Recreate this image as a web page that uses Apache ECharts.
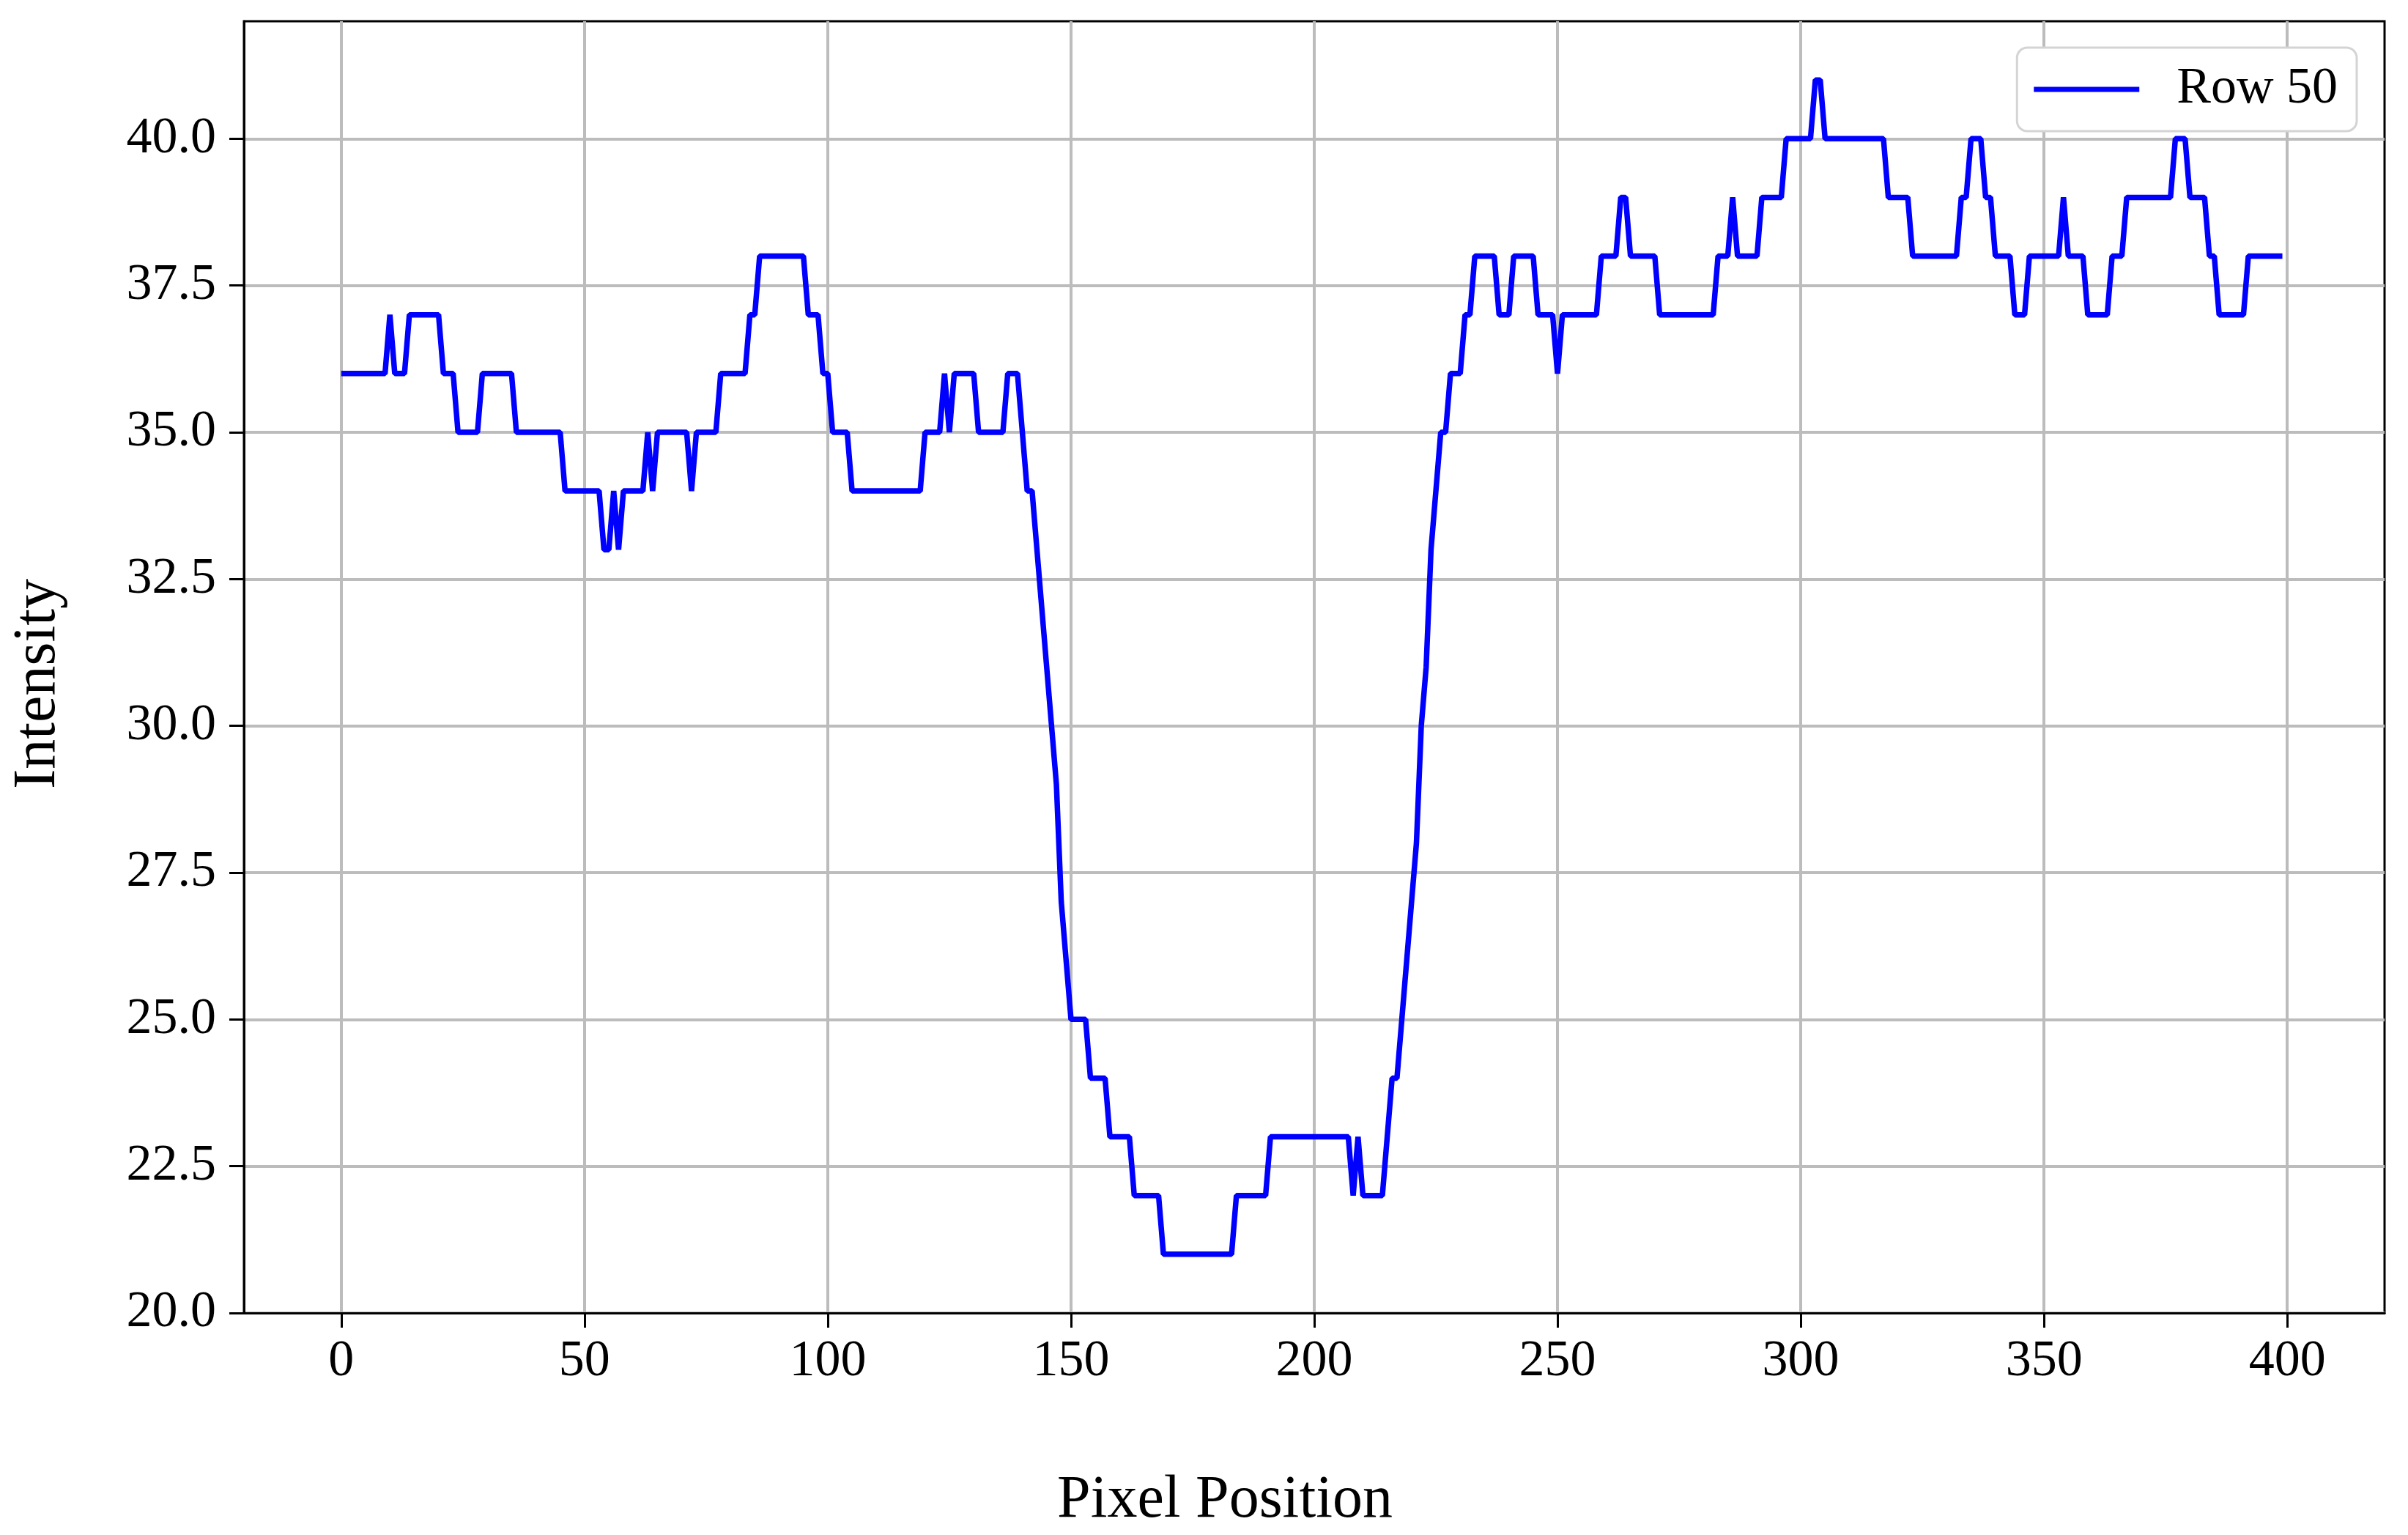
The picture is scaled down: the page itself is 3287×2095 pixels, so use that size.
<!DOCTYPE html>
<html>
<head>
<meta charset="utf-8">
<script src="https://cdn.jsdelivr.net/npm/echarts@6/dist/echarts.min.js"></script>
<style>
    html, body { margin: 0; padding: 0; background: #fff; }
    #chart { width: 3287px; height: 2095px; }
</style>
</head>
<body>
<div id="chart"></div>
<script>
// intensity profile of row 50, one value per pixel (0..399)
var intensity = [
    36, 36, 36, 36, 36, 36, 36, 36, 36, 36, 37, 36, 36, 36, 37, 37, 37, 37, 37, 37,
    37, 36, 36, 36, 35, 35, 35, 35, 35, 36, 36, 36, 36, 36, 36, 36, 35, 35, 35, 35,
    35, 35, 35, 35, 35, 35, 34, 34, 34, 34, 34, 34, 34, 34, 33, 33, 34, 33, 34, 34,
    34, 34, 34, 35, 34, 35, 35, 35, 35, 35, 35, 35, 34, 35, 35, 35, 35, 35, 36, 36,
    36, 36, 36, 36, 37, 37, 38, 38, 38, 38, 38, 38, 38, 38, 38, 38, 37, 37, 37, 36,
    36, 35, 35, 35, 35, 34, 34, 34, 34, 34, 34, 34, 34, 34, 34, 34, 34, 34, 34, 34,
    35, 35, 35, 35, 36, 35, 36, 36, 36, 36, 36, 35, 35, 35, 35, 35, 35, 36, 36, 36,
    35, 34, 34, 33, 32, 31, 30, 29, 27, 26, 25, 25, 25, 25, 24, 24, 24, 24, 23, 23,
    23, 23, 23, 22, 22, 22, 22, 22, 22, 21, 21, 21, 21, 21, 21, 21, 21, 21, 21, 21,
    21, 21, 21, 21, 22, 22, 22, 22, 22, 22, 22, 23, 23, 23, 23, 23, 23, 23, 23, 23,
    23, 23, 23, 23, 23, 23, 23, 23, 22, 23, 22, 22, 22, 22, 22, 23, 24, 24, 25, 26,
    27, 28, 30, 31, 33, 34, 35, 35, 36, 36, 36, 37, 37, 38, 38, 38, 38, 38, 37, 37,
    37, 38, 38, 38, 38, 38, 37, 37, 37, 37, 36, 37, 37, 37, 37, 37, 37, 37, 37, 38,
    38, 38, 38, 39, 39, 38, 38, 38, 38, 38, 38, 37, 37, 37, 37, 37, 37, 37, 37, 37,
    37, 37, 37, 38, 38, 38, 39, 38, 38, 38, 38, 38, 39, 39, 39, 39, 39, 40, 40, 40,
    40, 40, 40, 41, 41, 40, 40, 40, 40, 40, 40, 40, 40, 40, 40, 40, 40, 40, 39, 39,
    39, 39, 39, 38, 38, 38, 38, 38, 38, 38, 38, 38, 38, 39, 39, 40, 40, 40, 39, 39,
    38, 38, 38, 38, 37, 37, 37, 38, 38, 38, 38, 38, 38, 38, 39, 38, 38, 38, 38, 37,
    37, 37, 37, 37, 38, 38, 38, 39, 39, 39, 39, 39, 39, 39, 39, 39, 39, 40, 40, 40,
    39, 39, 39, 39, 38, 38, 37, 37, 37, 37, 37, 37, 38, 38, 38, 38, 38, 38, 38, 38
];
var xTicks = [0, 50, 100, 150, 200, 250, 300, 350, 400];
var yTicks = [20, 22.5, 25, 27.5, 30, 32.5, 35, 37.5, 40];
var seriesName = 'Row 50';

(function () {
    var font = 'Liberation Serif';
    var points = [];
    for (var i = 0; i < intensity.length; i++) {
        points.push([i, intensity[i]]);
    }
    var chart = echarts.init(document.getElementById('chart'));
    var option = {
        backgroundColor: '#ffffff',
        animation: false,
        grid: {
            left: 333,
            right: 32,
            top: 29,
            bottom: 303,
            show: true,
            borderColor: '#000000',
            borderWidth: 3,
            backgroundColor: 'transparent'
        },
        legend: {
            right: 70,
            top: 65,
            data: [seriesName],
            icon: 'rect',
            itemWidth: 144,
            itemHeight: 7,
            padding: [22, 26, 22, 23],
            backgroundColor: '#ffffff',
            borderColor: '#d4d4d4',
            borderWidth: 3,
            borderRadius: 14,
            textStyle: {
                fontFamily: font,
                fontSize: 70,
                color: '#000000',
                padding: [0, 0, 0, 46]
            }
        },
        xAxis: {
            type: 'value',
            min: -20,
            max: 420,
            splitNumber: 9,
            name: 'Pixel Position',
            nameLocation: 'middle',
            nameGap: 215,
            nameTextStyle: { fontFamily: font, fontSize: 82, color: '#000000', padding: [0, 244, 0, 0] },
            axisLine: { show: true, onZero: false, lineStyle: { color: '#000000', width: 3 } },
            axisTick: { show: true, length: 20, customValues: xTicks, lineStyle: { color: '#000000', width: 3 } },
            axisLabel: {
                customValues: xTicks,
                margin: 32,
                fontFamily: font,
                fontSize: 70,
                color: '#000000'
            },
            splitLine: { show: true, lineStyle: { color: '#bcbcbc', width: 4 } }
        },
        yAxis: {
            type: 'value',
            min: 20,
            max: 42,
            interval: 2.5,
            name: 'Intensity',
            nameLocation: 'middle',
            nameGap: 240,
            nameTextStyle: { fontFamily: font, fontSize: 82, color: '#000000', padding: [0, 46, 0, 0] },
            axisLine: { show: true, onZero: false, lineStyle: { color: '#000000', width: 3 } },
            axisTick: { show: true, length: 20, customValues: yTicks, lineStyle: { color: '#000000', width: 3 } },
            axisLabel: {
                customValues: yTicks,
                margin: 38,
                fontFamily: font,
                fontSize: 70,
                color: '#000000',
                formatter: function (v) { return v.toFixed(1); }
            },
            splitLine: { show: true, lineStyle: { color: '#bcbcbc', width: 4 } }
        },
        series: [{
            name: seriesName,
            type: 'line',
            data: points,
            showSymbol: false,
            symbol: 'none',
            lineStyle: { color: '#0000ff', width: 7.5 },
            itemStyle: { color: '#0000ff' }
        }]
    };
    chart.setOption(option);

    window.addEventListener('resize', function () {
        chart.resize();
    });
})();
</script>
</body>
</html>
